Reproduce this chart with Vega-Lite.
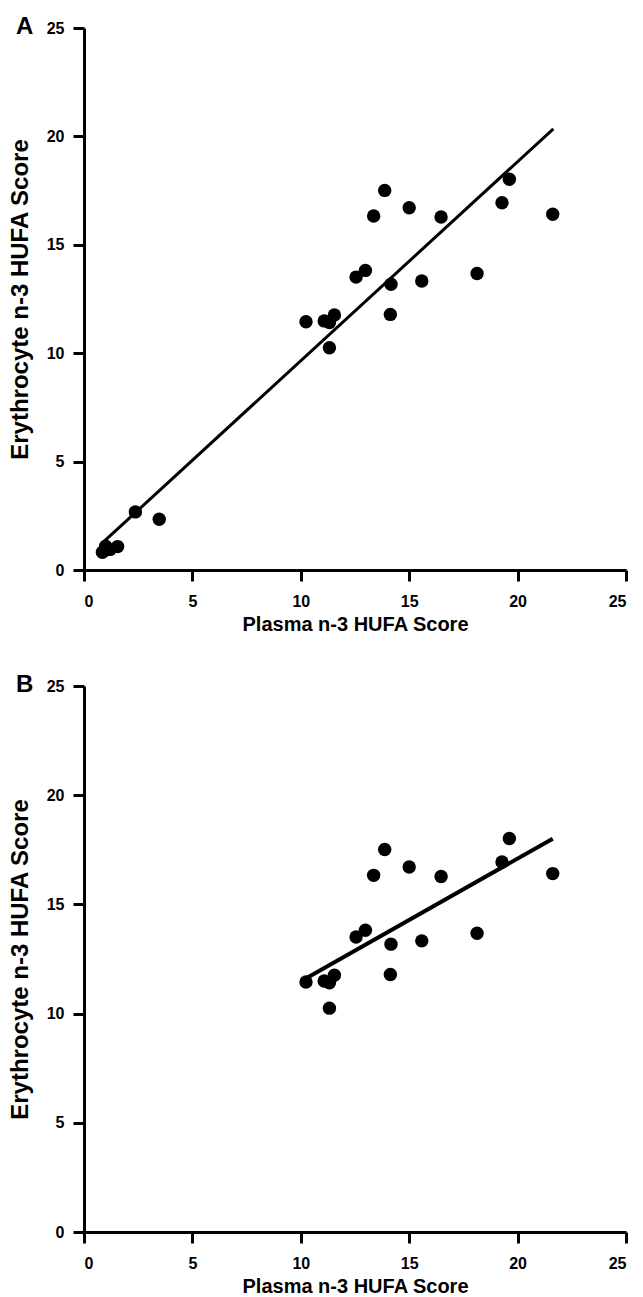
{
  "$schema": "https://vega.github.io/schema/vega-lite/v6.json",
  "background": "white",
  "padding": {"left": 8, "top": 15, "right": 5, "bottom": 2},
  "config": {
    "view": {"stroke": null},
    "font": "Liberation Sans",
    "axis": {
      "domainColor": "black", "domainWidth": 3, "tickColor": "black", "tickWidth": 3, "tickSize": 11,
      "labelFont": "Liberation Sans", "labelFontWeight": "bold", "labelFontSize": 16, "labelColor": "black",
      "titleFont": "Liberation Sans", "titleFontWeight": "bold", "titleFontSize": 20, "titleColor": "black",
      "grid": false
    }
  },
  "datasets": {
    "all": [
      {"plasma": 0.85, "eryth": 0.82}, {"plasma": 0.95, "eryth": 0.9}, {"plasma": 1.0, "eryth": 1.1},
      {"plasma": 1.2, "eryth": 0.95}, {"plasma": 1.55, "eryth": 1.08},
      {"plasma": 2.37, "eryth": 2.68}, {"plasma": 3.47, "eryth": 2.34},
      {"plasma": 10.24, "eryth": 11.45}, {"plasma": 11.08, "eryth": 11.49}, {"plasma": 11.55, "eryth": 11.76},
      {"plasma": 11.32, "eryth": 11.41}, {"plasma": 11.32, "eryth": 10.25}, {"plasma": 12.55, "eryth": 13.51},
      {"plasma": 12.98, "eryth": 13.82}, {"plasma": 14.16, "eryth": 13.18}, {"plasma": 14.13, "eryth": 11.79},
      {"plasma": 15.58, "eryth": 13.33}, {"plasma": 13.36, "eryth": 16.33}, {"plasma": 13.87, "eryth": 17.51},
      {"plasma": 15.0, "eryth": 16.71}, {"plasma": 16.47, "eryth": 16.28}, {"plasma": 18.13, "eryth": 13.68},
      {"plasma": 19.28, "eryth": 16.94}, {"plasma": 19.62, "eryth": 18.02}, {"plasma": 21.62, "eryth": 16.41}
    ],
    "high": [
      {"plasma": 10.24, "eryth": 11.45}, {"plasma": 11.08, "eryth": 11.49}, {"plasma": 11.55, "eryth": 11.76},
      {"plasma": 11.32, "eryth": 11.41}, {"plasma": 11.32, "eryth": 10.25}, {"plasma": 12.55, "eryth": 13.51},
      {"plasma": 12.98, "eryth": 13.82}, {"plasma": 14.16, "eryth": 13.18}, {"plasma": 14.13, "eryth": 11.79},
      {"plasma": 15.58, "eryth": 13.33}, {"plasma": 13.36, "eryth": 16.33}, {"plasma": 13.87, "eryth": 17.51},
      {"plasma": 15.0, "eryth": 16.71}, {"plasma": 16.47, "eryth": 16.28}, {"plasma": 18.13, "eryth": 13.68},
      {"plasma": 19.28, "eryth": 16.94}, {"plasma": 19.62, "eryth": 18.02}, {"plasma": 21.62, "eryth": 16.41}
    ],
    "fitA": [{"plasma": 0.86, "eryth": 1.26}, {"plasma": 21.65, "eryth": 20.35}],
    "fitB": [{"plasma": 10.25, "eryth": 11.62}, {"plasma": 21.62, "eryth": 18.01}]
  },
  "vconcat": [
    {
      "width": 542, "height": 542,
      "title": {"text": "A", "anchor": "start", "frame": "group", "dx": -68, "offset": -31, "baseline": "middle", "fontSize": 24, "fontWeight": "bold", "font": "Liberation Sans", "color": "black"},
      "layer": [
        {
          "data": {"name": "all"},
          "mark": {"type": "circle", "size": 180, "color": "black", "opacity": 1},
          "encoding": {
            "x": {"field": "plasma", "type": "quantitative", "scale": {"domain": [0, 25], "nice": false}, "axis": {"values": [0, 5, 10, 15, 20, 25], "title": "Plasma n-3 HUFA Score", "labelPadding": 12, "titlePadding": 5}},
            "y": {"field": "eryth", "type": "quantitative", "scale": {"domain": [0, 25], "nice": false}, "axis": {"values": [0, 5, 10, 15, 20, 25], "title": "Erythrocyte n-3 HUFA Score", "titleFontSize": 24, "labelPadding": 9, "titlePadding": 14}}
          }
        },
        {
          "data": {"name": "fitA"},
          "mark": {"type": "line", "color": "black", "strokeWidth": 3},
          "encoding": {"x": {"field": "plasma", "type": "quantitative"}, "y": {"field": "eryth", "type": "quantitative"}}
        }
      ]
    },
    {
      "width": 542, "height": 546,
      "title": {"text": "B", "anchor": "start", "frame": "group", "dx": -68, "offset": -31, "baseline": "middle", "fontSize": 24, "fontWeight": "bold", "font": "Liberation Sans", "color": "black"},
      "layer": [
        {
          "data": {"name": "high"},
          "mark": {"type": "circle", "size": 180, "color": "black", "opacity": 1},
          "encoding": {
            "x": {"field": "plasma", "type": "quantitative", "scale": {"domain": [0, 25], "nice": false}, "axis": {"values": [0, 5, 10, 15, 20, 25], "title": "Plasma n-3 HUFA Score", "labelPadding": 12, "titlePadding": 5}},
            "y": {"field": "eryth", "type": "quantitative", "scale": {"domain": [0, 25], "nice": false}, "axis": {"values": [0, 5, 10, 15, 20, 25], "title": "Erythrocyte n-3 HUFA Score", "titleFontSize": 24, "labelPadding": 9, "titlePadding": 14}}
          }
        },
        {
          "data": {"name": "fitB"},
          "mark": {"type": "line", "color": "black", "strokeWidth": 4},
          "encoding": {"x": {"field": "plasma", "type": "quantitative"}, "y": {"field": "eryth", "type": "quantitative"}}
        }
      ]
    }
  ],
  "spacing": 116,
  "bounds": "flush"
}
